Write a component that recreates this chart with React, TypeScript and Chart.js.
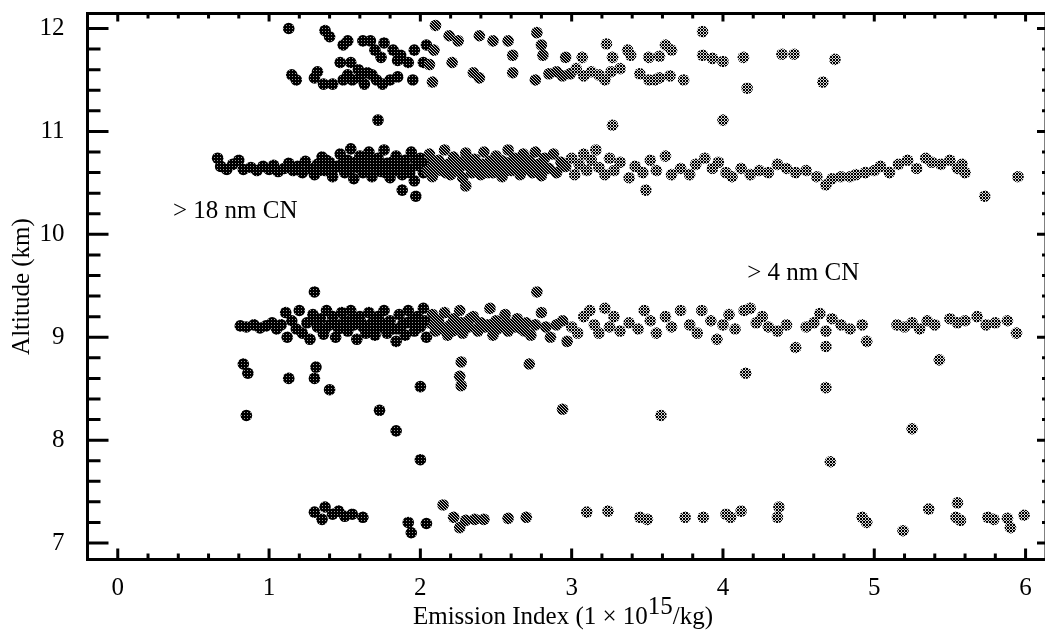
import React, { useEffect, useRef } from "react";
import { Chart, registerables } from "chart.js";

Chart.register(...registerables);

// ---- axis ranges and ticks ----
const X_MIN = -0.2;
const X_MAX = 6.135;
const Y_MIN = 6.84;
const Y_MAX = 12.146;
const xTickLabels = [0, 1, 2, 3, 4, 5, 6];
const yTickLabels = [7, 8, 9, 10, 11, 12];
const minorStep = 0.2;

const xAxisTitle = ["Emission Index (1 \u00d7 10", "15", "/kg)"];
const yAxisTitle = "Altitude (km)";

// annotation texts and their data positions [x, y]
const annotationTexts = ["> 18 nm CN", "> 4 nm CN"];
const annotationPositions: [number, number][] = [
  [0.365, 10.158],
  [4.16, 9.556],
];

// ---- data: [Emission Index, Altitude] ----
const band12km: [number, number][] = [
  [1.13, 12.0], [1.15, 11.55], [1.18, 11.5], [1.37, 11.98], [1.4, 11.92], [1.49, 11.84], [1.52, 11.88],
  [1.47, 11.67], [1.54, 11.67], [1.3, 11.52], [1.36, 11.46], [1.42, 11.46], [1.49, 11.5], [1.55, 11.5],
  [1.6, 11.52], [1.63, 11.46], [1.68, 11.55], [1.71, 11.5], [1.75, 11.46], [1.8, 11.5], [1.85, 11.53],
  [1.32, 11.58], [1.52, 11.55], [1.59, 11.6], [1.65, 11.57], [1.74, 11.72], [1.7, 11.79], [1.67, 11.88],
  [1.76, 11.86], [1.82, 11.79], [1.87, 11.74], [1.62, 11.88], [1.85, 11.69], [1.92, 11.67], [1.96, 11.79],
  [1.95, 11.5], [2.08, 11.48], [2.04, 11.84], [2.09, 11.79], [2.02, 11.67], [2.06, 11.65], [2.1, 12.03],
  [2.19, 11.93], [2.25, 11.88], [2.21, 11.67], [2.35, 11.57], [2.39, 11.52], [2.39, 11.93], [2.48, 11.88],
  [2.58, 11.88], [2.61, 11.74], [2.61, 11.57], [2.77, 11.96], [2.8, 11.84], [2.81, 11.74], [2.76, 11.5],
  [2.85, 11.56], [2.9, 11.58], [2.94, 11.54], [2.99, 11.56], [3.03, 11.61], [3.08, 11.54], [3.13, 11.58],
  [3.18, 11.55], [3.22, 11.5], [3.26, 11.58], [3.32, 11.61], [2.96, 11.72], [3.07, 11.72], [3.23, 11.85],
  [3.27, 11.72], [3.37, 11.79], [3.39, 11.74], [3.45, 11.56], [3.51, 11.5], [3.55, 11.5], [3.58, 11.52],
  [3.65, 11.54], [3.74, 11.5], [3.51, 11.72], [3.58, 11.73], [3.62, 11.84], [3.66, 11.79], [3.865, 11.97],
  [3.865, 11.74], [3.93, 11.71], [4.0, 11.68], [4.135, 11.72], [4.16, 11.42], [4.39, 11.75], [4.47, 11.75],
  [4.66, 11.48], [4.74, 11.7],
];

const band107km: [number, number][] = [
  [0.66, 10.74], [0.68, 10.66], [0.72, 10.63], [0.76, 10.68], [0.8, 10.72], [0.83, 10.63], [0.88, 10.65],
  [0.92, 10.62], [0.96, 10.66], [1.0, 10.63], [1.03, 10.67], [1.06, 10.61], [1.1, 10.64], [1.13, 10.69],
  [1.16, 10.62], [1.19, 10.66], [1.22, 10.6], [1.24, 10.71], [1.27, 10.64], [1.3, 10.58], [1.32, 10.68],
  [1.35, 10.75], [1.37, 10.62], [1.4, 10.7], [1.42, 10.56], [1.45, 10.66], [1.47, 10.78], [1.5, 10.6],
  [1.52, 10.72], [1.54, 10.83], [1.56, 10.54], [1.58, 10.65], [1.6, 10.76], [1.62, 10.6], [1.64, 10.7],
  [1.66, 10.8], [1.68, 10.56], [1.7, 10.66], [1.72, 10.74], [1.74, 10.61], [1.76, 10.82], [1.78, 10.69],
  [1.8, 10.55], [1.82, 10.63], [1.84, 10.76], [1.86, 10.68], [1.88, 10.58], [1.9, 10.72], [1.92, 10.64],
  [1.94, 10.8], [1.96, 10.52], [1.98, 10.67], [2.0, 10.74], [2.02, 10.6], [2.04, 10.7], [2.06, 10.78],
  [2.08, 10.56], [2.1, 10.64], [2.12, 10.72], [2.14, 10.62], [2.16, 10.82], [2.18, 10.68], [2.2, 10.58],
  [2.22, 10.75], [2.24, 10.64], [2.26, 10.7], [2.28, 10.55], [2.3, 10.79], [2.32, 10.66], [2.34, 10.6],
  [2.36, 10.73], [2.38, 10.68], [2.4, 10.58], [2.42, 10.8], [2.44, 10.65], [2.46, 10.71], [2.48, 10.6],
  [2.5, 10.76], [2.52, 10.66], [2.54, 10.56], [2.56, 10.7], [2.58, 10.82], [2.6, 10.62], [2.62, 10.74],
  [2.64, 10.67], [2.66, 10.58], [2.68, 10.78], [2.7, 10.64], [2.72, 10.72], [2.74, 10.6], [2.76, 10.8],
  [2.78, 10.68], [2.8, 10.57], [2.82, 10.74], [2.85, 10.64], [2.88, 10.78], [2.9, 10.6], [2.93, 10.7],
  [2.96, 10.66], [3.0, 10.74], [3.02, 10.58], [3.05, 10.68], [3.08, 10.78], [3.1, 10.62], [3.13, 10.72],
  [3.16, 10.82], [3.18, 10.65], [3.22, 10.58], [3.25, 10.74],
  [1.33, 10.62], [1.38, 10.72], [1.43, 10.64], [1.48, 10.68], [1.53, 10.62], [1.57, 10.7], [1.61, 10.66],
  [1.65, 10.62], [1.69, 10.72], [1.73, 10.66], [1.77, 10.6], [1.81, 10.7], [1.85, 10.62], [1.89, 10.66],
  [1.93, 10.6], [1.97, 10.72], [2.01, 10.66], [2.05, 10.62], [2.09, 10.7], [2.13, 10.66], [2.17, 10.6],
  [2.21, 10.66], [2.25, 10.62], [2.29, 10.68], [2.33, 10.72], [2.37, 10.62], [2.41, 10.68], [2.45, 10.6],
  [2.49, 10.68], [2.53, 10.72], [2.57, 10.62], [2.61, 10.68], [2.65, 10.72], [2.69, 10.68], [2.73, 10.66],
  [2.77, 10.62], [2.81, 10.66],
  [3.28, 10.62], [3.32, 10.7], [3.38, 10.55], [3.42, 10.66], [3.47, 10.6], [3.52, 10.72], [3.56, 10.62],
  [3.62, 10.76], [3.66, 10.58], [3.72, 10.64], [3.78, 10.58], [3.82, 10.68], [3.88, 10.74], [3.93, 10.64],
  [3.97, 10.7], [4.02, 10.6], [4.06, 10.56], [4.12, 10.64], [4.18, 10.58], [4.24, 10.62], [4.3, 10.6],
  [4.36, 10.68], [4.42, 10.64], [4.48, 10.6], [4.55, 10.62], [4.62, 10.56], [4.68, 10.48], [4.72, 10.54],
  [4.78, 10.56], [4.84, 10.56], [4.88, 10.58], [4.94, 10.6], [5.0, 10.62], [5.04, 10.66], [5.1, 10.6],
  [5.16, 10.68], [5.22, 10.72], [5.28, 10.64], [5.34, 10.74], [5.38, 10.7], [5.44, 10.68], [5.5, 10.72],
  [5.55, 10.64], [5.6, 10.6], [5.58, 10.68],
  [1.72, 11.11], [1.88, 10.43], [1.97, 10.37], [2.3, 10.47], [3.27, 11.06], [3.49, 10.43], [4.0, 11.11],
  [5.73, 10.37], [5.95, 10.56],
];

const band91km: [number, number][] = [
  [0.81, 9.11], [0.85, 9.1], [0.9, 9.12], [0.94, 9.09], [0.98, 9.11], [1.02, 9.14], [1.05, 9.08],
  [1.08, 9.12], [1.11, 9.24], [1.12, 9.0], [1.15, 9.16], [1.18, 9.08], [1.2, 9.26], [1.22, 9.04],
  [1.25, 9.14], [1.27, 8.98], [1.29, 9.22], [1.32, 9.1], [1.34, 9.18], [1.36, 9.03], [1.38, 9.26],
  [1.4, 9.12], [1.42, 9.2], [1.44, 9.0], [1.46, 9.08], [1.48, 9.24], [1.5, 9.16], [1.52, 9.06],
  [1.54, 9.26], [1.56, 9.12], [1.58, 8.98], [1.6, 9.2], [1.62, 9.1], [1.64, 9.04], [1.66, 9.24],
  [1.68, 9.14], [1.7, 9.02], [1.72, 9.2], [1.74, 9.1], [1.76, 9.26], [1.78, 9.04], [1.8, 9.16],
  [1.82, 9.08], [1.84, 8.96], [1.86, 9.22], [1.88, 9.12], [1.9, 9.02], [1.92, 9.26], [1.94, 9.16],
  [1.96, 9.06], [1.98, 9.2], [2.0, 9.1], [2.02, 9.28], [2.04, 9.0], [2.06, 9.14], [2.08, 9.22],
  [2.1, 9.06], [2.12, 9.16], [2.14, 9.1], [2.16, 9.24], [2.18, 9.02], [2.2, 9.12], [2.22, 9.18],
  [2.24, 9.08], [2.26, 9.26], [2.28, 9.04], [2.3, 9.14], [2.32, 9.1], [2.35, 9.2], [2.38, 9.06],
  [2.4, 9.14], [2.43, 9.1], [2.46, 9.28], [2.48, 9.02], [2.5, 9.16], [2.53, 9.1], [2.56, 9.22],
  [2.58, 9.06], [2.61, 9.12], [2.64, 9.18], [2.67, 9.08], [2.7, 9.14], [2.73, 9.02], [2.76, 9.12],
  [2.8, 9.24], [2.83, 9.1], [2.86, 9.0], [2.9, 9.12], [2.94, 9.16], [2.97, 8.96], [3.0, 9.1],
  [3.04, 9.04],
  [1.31, 9.16], [1.37, 9.08], [1.43, 9.14], [1.49, 9.1], [1.55, 9.18], [1.61, 9.14], [1.67, 9.08],
  [1.73, 9.16], [1.79, 9.12], [1.85, 9.08], [1.91, 9.14], [1.97, 9.1], [2.03, 9.16], [2.09, 9.12],
  [2.15, 9.08], [2.21, 9.06], [2.27, 9.14], [2.33, 9.18], [2.39, 9.1], [2.45, 9.12], [2.51, 9.08],
  [2.57, 9.14], [2.63, 9.1], [2.69, 9.06],
  [3.08, 9.2], [3.12, 9.26], [3.15, 9.12], [3.18, 9.04], [3.22, 9.28], [3.25, 9.1], [3.28, 9.2],
  [3.32, 9.06], [3.38, 9.14], [3.44, 9.08], [3.48, 9.26], [3.52, 9.16], [3.56, 9.04], [3.62, 9.2],
  [3.66, 9.1], [3.72, 9.26], [3.78, 9.12], [3.83, 9.04], [3.86, 9.26], [3.92, 9.16], [3.96, 8.98],
  [4.0, 9.12], [4.04, 9.22], [4.08, 9.08], [4.14, 9.26], [4.18, 9.28], [4.22, 9.14], [4.26, 9.2],
  [4.3, 9.1], [4.36, 9.06], [4.42, 9.12], [4.48, 8.9], [4.55, 9.1], [4.6, 9.14], [4.64, 9.23],
  [4.68, 9.06], [4.72, 9.18], [4.78, 9.12], [4.84, 9.08], [4.92, 9.12], [4.95, 8.96], [5.15, 9.12],
  [5.2, 9.1], [5.25, 9.14], [5.3, 9.08], [5.35, 9.16], [5.4, 9.12], [5.5, 9.18], [5.55, 9.14],
  [5.6, 9.16], [5.68, 9.2], [5.74, 9.12], [5.8, 9.14], [5.88, 9.16], [5.94, 9.04],
  [1.3, 9.44], [2.77, 9.44], [0.83, 8.74], [0.86, 8.65], [0.85, 8.24], [1.13, 8.6], [1.3, 8.6],
  [1.31, 8.71], [1.4, 8.49], [1.73, 8.29], [1.84, 8.09], [2.0, 7.81], [2.0, 8.52], [2.27, 8.76],
  [2.26, 8.62], [2.27, 8.53], [2.72, 8.74], [2.94, 8.3], [3.59, 8.24], [4.15, 8.65], [4.68, 8.51],
  [4.71, 7.79], [5.25, 8.11], [5.43, 8.78], [4.68, 8.91],
];

const band73km: [number, number][] = [
  [1.3, 7.3], [1.35, 7.23], [1.37, 7.35], [1.42, 7.28], [1.46, 7.31], [1.5, 7.26], [1.55, 7.28],
  [1.62, 7.25], [1.92, 7.2], [1.94, 7.1], [2.04, 7.19], [2.15, 7.37], [2.22, 7.25], [2.26, 7.15],
  [2.3, 7.22], [2.36, 7.23], [2.42, 7.23], [2.58, 7.24], [2.7, 7.25], [3.1, 7.3], [3.24, 7.31],
  [3.45, 7.25], [3.5, 7.23], [3.75, 7.25], [3.87, 7.25], [4.02, 7.28], [4.05, 7.25], [4.12, 7.31],
  [4.37, 7.35], [4.36, 7.25], [4.92, 7.25], [4.95, 7.2], [5.19, 7.12], [5.36, 7.33], [5.55, 7.39],
  [5.54, 7.25], [5.57, 7.22], [5.75, 7.25], [5.79, 7.23], [5.88, 7.24], [5.9, 7.15], [5.99, 7.27],
];

const allBands = [band12km, band107km, band91km, band73km];

function makePattern(level: number): CanvasPattern | string {
  const c = document.createElement("canvas");
  c.width = 3;
  c.height = 3;
  const g = c.getContext("2d");
  if (!g) return "#333";
  g.fillStyle = "#000";
  g.fillRect(0, 0, 3, 3);
  if (level === 0) {
    g.fillStyle = "#a0a0a0";
    g.fillRect(1, 1, 1, 1);
  } else if (level === 1) {
    g.fillStyle = "#c4c4c4";
    g.fillRect(1, 0, 1, 1);
    g.fillRect(0, 2, 1, 1);
    g.fillRect(2, 1, 1, 1);
  } else {
    g.fillStyle = "#d4d4d4";
    g.fillRect(1, 0, 1, 1);
    g.fillRect(0, 1, 1, 1);
    g.fillRect(2, 1, 1, 1);
    g.fillRect(1, 2, 1, 1);
  }
  const p = g.createPattern(c, "repeat");
  return p || "#333";
}

const FONT = "'Liberation Serif', 'DejaVu Serif', serif";

export default function App() {
  const ref = useRef<HTMLCanvasElement | null>(null);

  useEffect(() => {
    if (!ref.current) return;
    const pats = [makePattern(0), makePattern(1), makePattern(2)];

    const framePlugin = {
      id: "frameTicks",
      afterDatasetsDraw(chart: any) {
        const { ctx, chartArea, scales } = chart;
        const xs = scales.x;
        const ys = scales.y;
        ctx.save();
        ctx.strokeStyle = "#000";
        ctx.lineWidth = 3;
        ctx.strokeRect(chartArea.left, chartArea.top, chartArea.right - chartArea.left, chartArea.bottom - chartArea.top);
        ctx.beginPath();
        for (let v = Math.ceil(X_MIN / minorStep) * minorStep; v <= X_MAX + 1e-9; v += minorStep) {
          const r = Math.round(v * 5) / 5;
          const major = Math.abs(r - Math.round(r)) < 1e-6;
          const px = xs.getPixelForValue(r);
          ctx.moveTo(px, chartArea.bottom);
          ctx.lineTo(px, chartArea.bottom - (major ? 11 : 6));
          ctx.moveTo(px, chartArea.top);
          ctx.lineTo(px, chartArea.top + (major ? 8 : 5));
        }
        for (let v = Math.ceil(Y_MIN / minorStep) * minorStep; v <= Y_MAX + 1e-9; v += minorStep) {
          const r = Math.round(v * 5) / 5;
          const major = Math.abs(r - Math.round(r)) < 1e-6;
          const py = ys.getPixelForValue(r);
          ctx.moveTo(chartArea.left, py);
          ctx.lineTo(chartArea.left + (major ? 21 : 13), py);
          ctx.moveTo(chartArea.right, py);
          ctx.lineTo(chartArea.right - (major ? 9 : 4), py);
        }
        ctx.stroke();

        // annotations
        ctx.fillStyle = "#000";
        ctx.font = `25px ${FONT}`;
        ctx.textAlign = "left";
        ctx.textBaseline = "alphabetic";
        annotationTexts.forEach((t, i) => {
          const [ax, ay] = annotationPositions[i];
          ctx.fillText(t, xs.getPixelForValue(ax), ys.getPixelForValue(ay));
        });

        // x-axis title with superscript
        const w0 = ctx.measureText(xAxisTitle[0]).width;
        const w1 = ctx.measureText(xAxisTitle[1]).width;
        const w2 = ctx.measureText(xAxisTitle[2]).width;
        const total = w0 + w1 + w2;
        const cx = 563;
        const base = 624;
        let x0 = cx - total / 2;
        ctx.fillText(xAxisTitle[0], x0, base);
        x0 += w0;
        ctx.fillText(xAxisTitle[1], x0, base - 10);
        x0 += w1;
        ctx.fillText(xAxisTitle[2], x0, base);
        ctx.restore();
      },
    };

    const datasets = allBands.map((band, i) => ({
      label: "band" + i,
      data: band.map(([x, y]) => ({ x, y })),
      pointRadius: 5.8,
      pointHoverRadius: 5.8,
      borderWidth: 0,
      pointBorderWidth: 0,
      backgroundColor: (c: any) => {
        const raw = c.raw;
        if (!raw) return pats[0];
        return raw.x < 2.05 ? pats[0] : raw.x < 3.0 ? pats[1] : pats[2];
      },
    }));

    const chart = new Chart(ref.current, {
      type: "scatter",
      data: { datasets },
      plugins: [framePlugin],
      options: {
        animation: false,
        responsive: false,
        events: [],
        layout: { autoPadding: false, padding: { left: 0, right: 4, top: 13.5, bottom: 0 } },
        plugins: { legend: { display: false }, tooltip: { enabled: false } },
        scales: {
          x: {
            type: "linear",
            min: X_MIN,
            max: X_MAX,
            grid: { display: false },
            border: { display: false },
            afterBuildTicks: (s: any) => {
              s.ticks = xTickLabels.map((v) => ({ value: v }));
            },
            afterFit: (s: any) => {
              s.height = 82.5;
              s.paddingLeft = 0;
              s.paddingRight = 0;
            },
            ticks: {
              color: "#000",
              font: { family: FONT, size: 25 },
              padding: 6,
              maxRotation: 0,
              autoSkip: false,
              callback: (v: any) => String(v),
            },
          },
          y: {
            type: "linear",
            min: Y_MIN,
            max: Y_MAX,
            grid: { display: false },
            border: { display: false },
            afterBuildTicks: (s: any) => {
              s.ticks = yTickLabels.map((v) => ({ value: v }));
            },
            afterFit: (s: any) => {
              s.width = 87.5;
              s.paddingTop = 0;
              s.paddingBottom = 0;
            },
            ticks: {
              color: "#000",
              font: { family: FONT, size: 25 },
              padding: 15,
              autoSkip: false,
              callback: (v: any) => String(v),
            },
            title: {
              display: true,
              text: yAxisTitle,
              color: "#000",
              font: { family: FONT, size: 25 },
              padding: { top: 7, bottom: 0 },
            },
          },
        },
      },
    });
    return () => chart.destroy();
  }, []);

  return (
    <div
      style={{
        position: "fixed",
        left: 0,
        top: 0,
        width: 1045,
        height: 642,
        overflow: "hidden",
        background: "#fff",
      }}
    >
      <canvas ref={ref} width={1050} height={642} style={{ display: "block" }} />
    </div>
  );
}
